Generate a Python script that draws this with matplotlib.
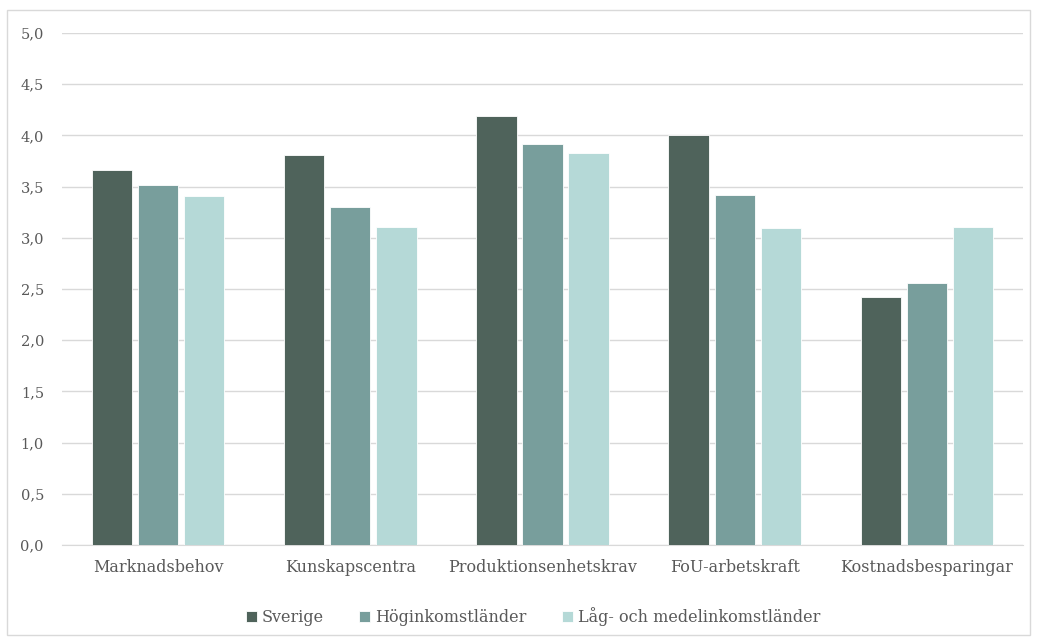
import numpy as np
import matplotlib.pyplot as plt
from matplotlib.patches import Rectangle

kategorier = ['Marknadsbehov', 'Kunskapscentra', 'Produktionsenhetskrav',
              'FoU-arbetskraft', 'Kostnadsbesparingar']
sverige = [3.66, 3.81, 4.19, 4.00, 2.42]
hoginkomst = [3.52, 3.30, 3.92, 3.42, 2.56]
lag_medel = [3.41, 3.11, 3.83, 3.10, 3.11]
serier = ['Sverige', 'Höginkomstländer', 'Låg- och medelinkomstländer']
farger = ['#4f635b', '#789e9c', '#b5d9d7']

plt.rcParams['font.family'] = ['DejaVu Serif']
textfarg = '#595959'

fig = plt.figure(figsize=(10.37, 6.43), dpi=100)
ax = fig.add_axes([0.0598, 0.1524, 0.9267, 0.7963])

# ram runt hela diagrammet
fig.patches.append(Rectangle((7 / 1037, 8 / 643), 1023 / 1037, 625 / 643,
                             transform=fig.transFigure, fill=False,
                             edgecolor='#d9d9d9', linewidth=1))

X = np.arange(len(kategorier))
bredd = 0.21
steg = 0.24
staplar = []
for i, (data, farg) in enumerate(zip([sverige, hoginkomst, lag_medel], farger)):
    p = ax.bar(X + (i - 1) * steg, data, width=bredd, color=farg,
               edgecolor='white', linewidth=0.6, zorder=3)
    staplar.append(p)

ax.set_xlim(-0.5, len(kategorier) - 0.5)
ax.set_ylim(0, 5)
ax.set_yticks(np.arange(0, 5.01, 0.5))
ax.set_yticklabels([f'{v:.1f}'.replace('.', ',') for v in np.arange(0, 5.01, 0.5)],
                   fontsize=10.5, color=textfarg)
ax.set_xticks(X)
ax.set_xticklabels(kategorier, fontsize=11.5, color=textfarg)
ax.tick_params(axis='both', length=0)
ax.tick_params(axis='y', pad=13)
ax.tick_params(axis='x', pad=10)
ax.yaxis.grid(True, color='#d9d9d9', linewidth=1, zorder=0)
for s in ['top', 'right', 'left']:
    ax.spines[s].set_visible(False)
ax.spines['bottom'].set_color('#d9d9d9')

ax.legend(staplar, serier, loc='upper center', bbox_to_anchor=(0.49, -0.093),
          ncol=3, frameon=False, fontsize=11.5, handlelength=0.7,
          handleheight=0.7, handletextpad=0.3, columnspacing=2.2,
          labelcolor=textfarg)

fig.savefig('out.png', dpi=100)
